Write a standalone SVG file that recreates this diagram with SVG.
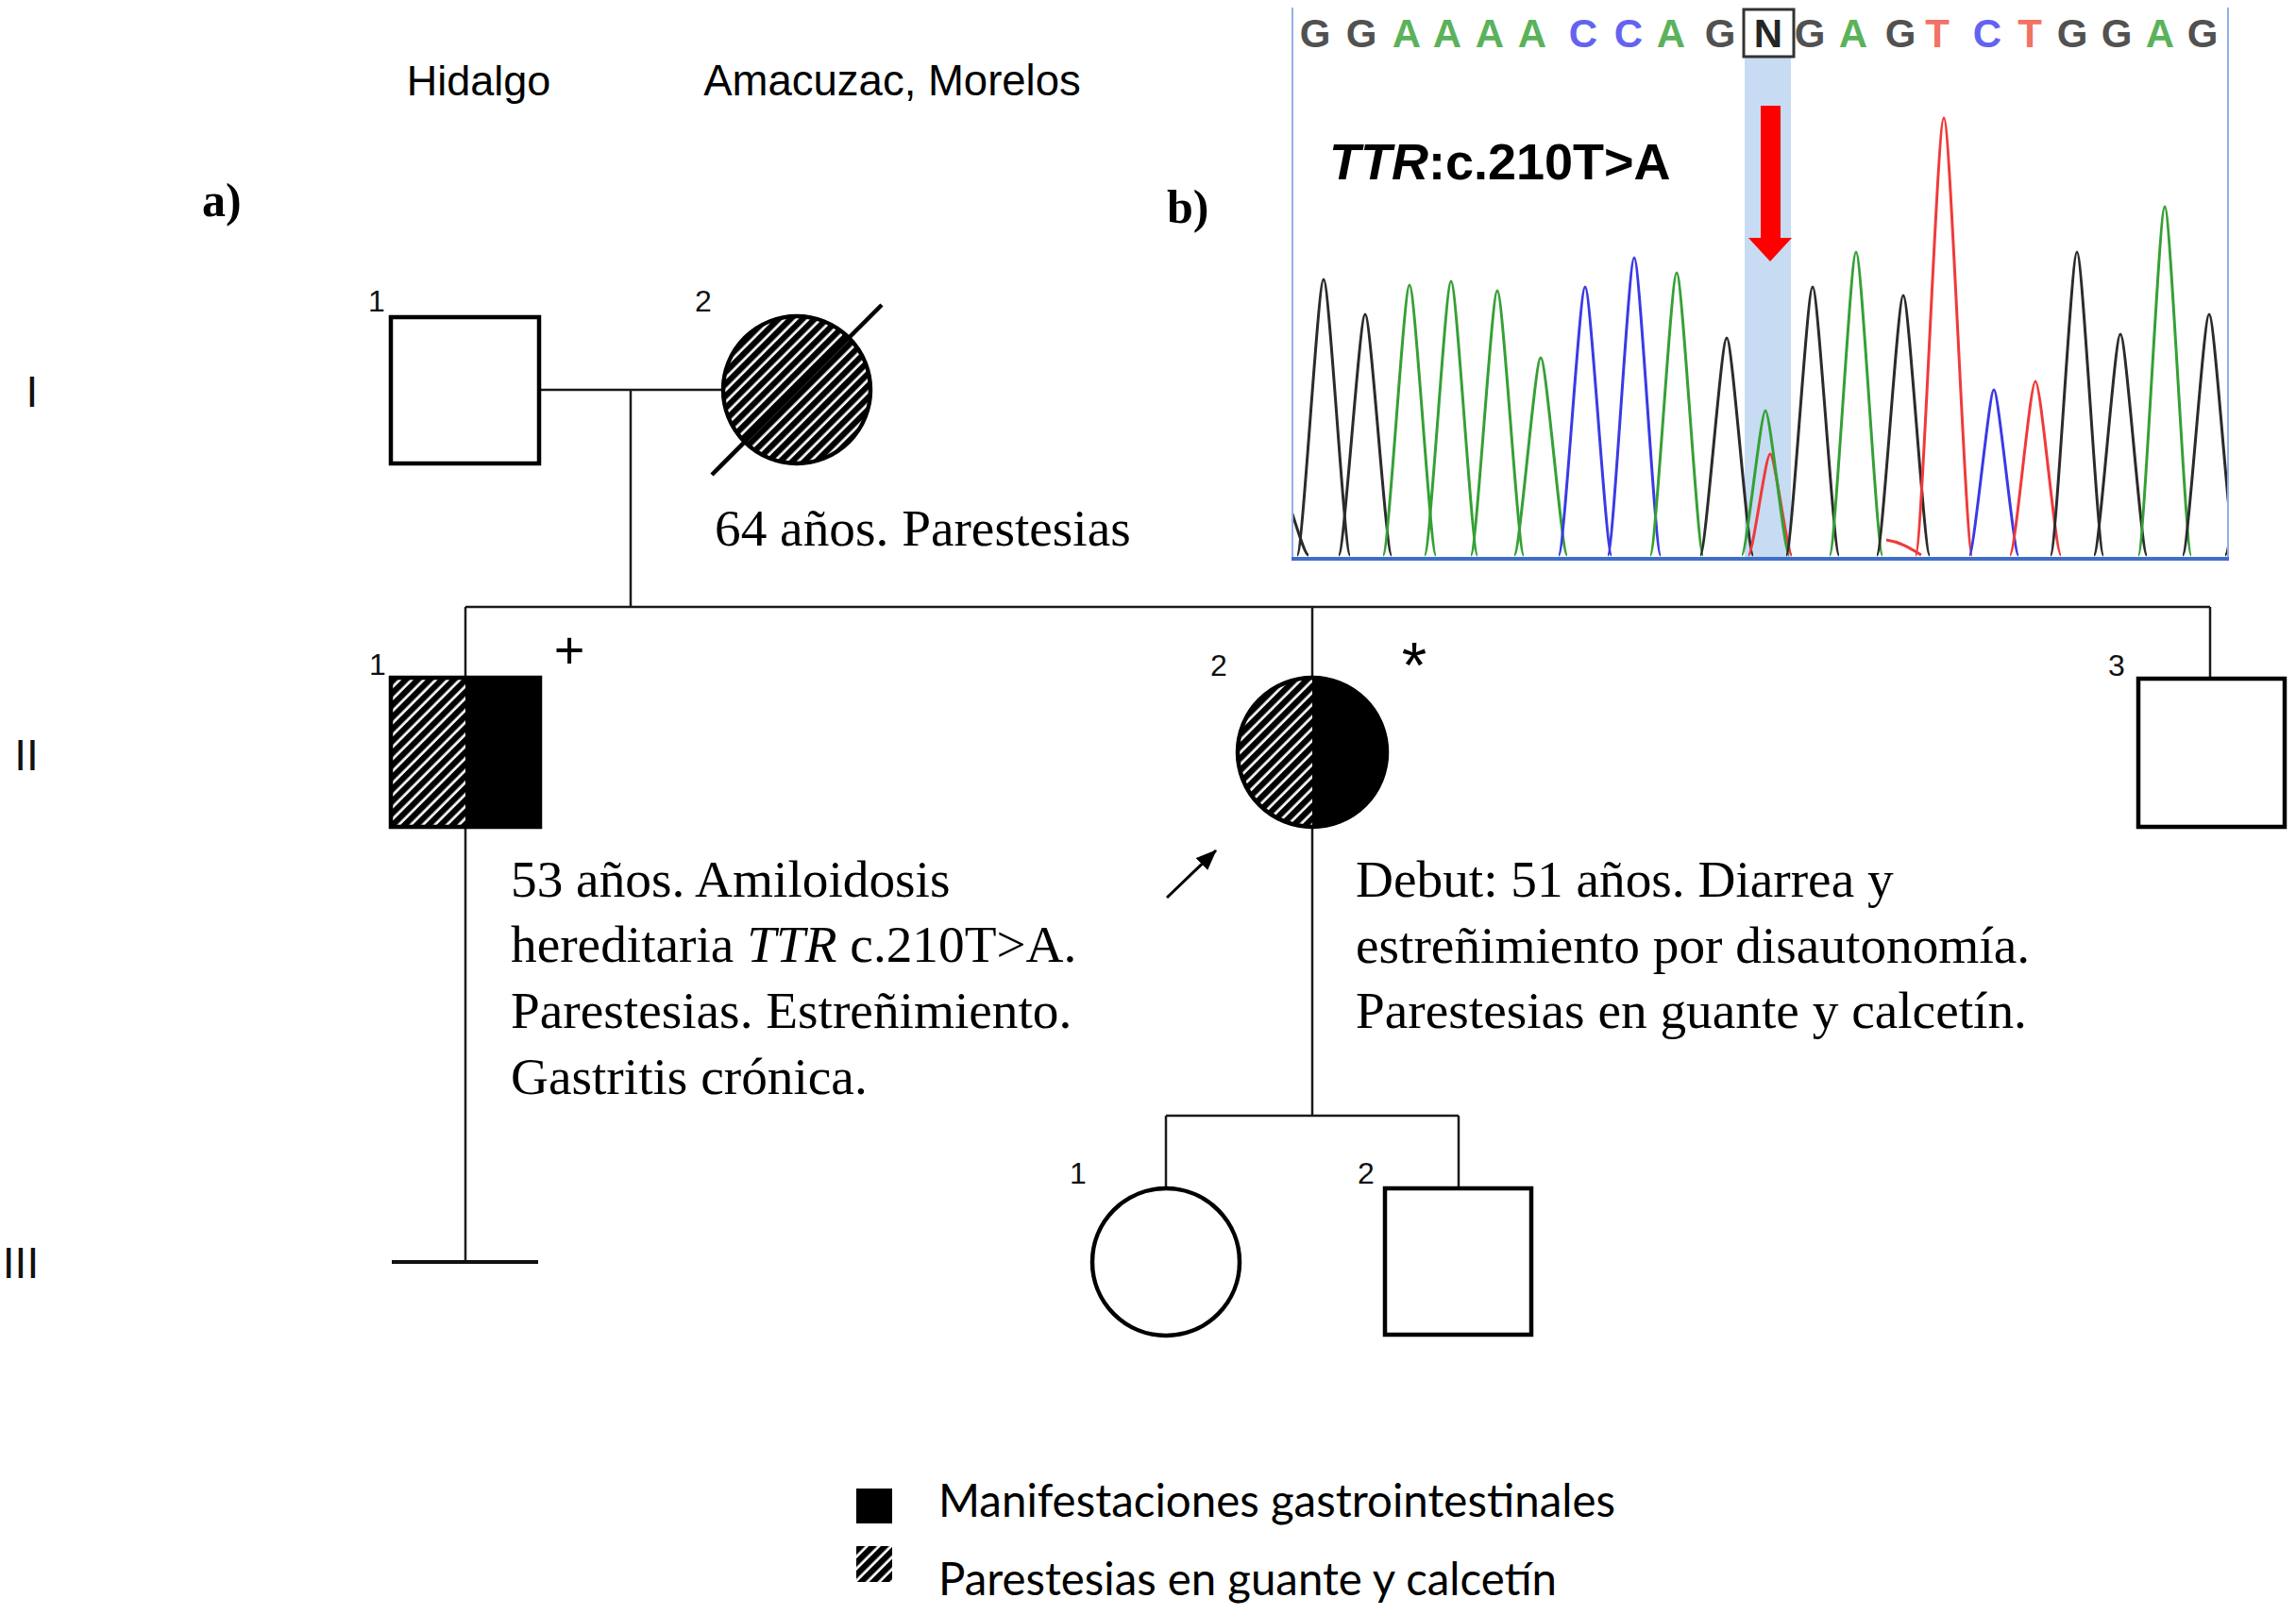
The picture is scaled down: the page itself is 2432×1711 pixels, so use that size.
<svg xmlns="http://www.w3.org/2000/svg" width="2432" height="1711" viewBox="0 0 2432 1711">
<style>
.sans{font-family:"Liberation Sans",Arial,sans-serif}
.serif{font-family:"Liberation Serif","Times New Roman",serif}
.num{font-family:"Liberation Sans",Arial,sans-serif;font-size:32px;text-anchor:middle;fill:#111}
.gen{font-family:"Liberation Sans",Arial,sans-serif;font-size:46px;text-anchor:middle;fill:#111}
.note{font-family:"Liberation Serif","Times New Roman",serif;font-size:55.3px;fill:#000}
.leg{font-family:Lato,"Open Sans",sans-serif;font-size:48px;fill:#000}
.ln{stroke:#1a1a1a;stroke-width:2.5;fill:none}
.shape{stroke:#000;stroke-width:4.5}
.base{font-family:"Liberation Sans",Arial,sans-serif;font-weight:bold;font-size:42px;text-anchor:middle;opacity:0.85}
.tr{fill:none;stroke-width:3;stroke-linejoin:round}
.k{stroke:#2b2b2b}.g{stroke:#35a035}.b{stroke:#3a3ae6}.r{stroke:#f03a3a}
</style>
<defs>
<pattern id="hatch" patternUnits="userSpaceOnUse" width="9" height="9" patternTransform="rotate(45)">
<rect width="9" height="9" fill="#fff"/>
<rect width="6.3" height="9" fill="#000"/>
</pattern>
<marker id="ahb" markerWidth="22" markerHeight="18" refX="21" refY="9" orient="auto" markerUnits="userSpaceOnUse">
<path d="M0,0 L22,9 L0,18 Z" fill="#000"/>
</marker>
<clipPath id="chromclip"><rect x="1369" y="58" width="990" height="533"/></clipPath>
</defs>
<rect width="2432" height="1711" fill="#fff"/>

<!-- headings -->
<text class="sans" x="507" y="101" font-size="45" text-anchor="middle">Hidalgo</text>
<text class="sans" x="945" y="101" font-size="45.5" text-anchor="middle">Amacuzac, Morelos</text>
<text class="serif" x="214" y="229" font-size="50" font-weight="bold">a)</text>
<text class="serif" x="1236" y="236" font-size="50" font-weight="bold">b)</text>

<!-- generation labels -->
<text class="gen" x="34" y="431">I</text>
<text class="gen" x="28" y="816">II</text>
<text class="gen" x="22" y="1354">III</text>

<!-- connectors -->
<g id="connectors">
<line class="ln" x1="571" y1="413" x2="765" y2="413"/>
<line class="ln" x1="668" y1="413" x2="668" y2="643"/>
<line class="ln" x1="493" y1="643" x2="2341" y2="643"/>
<line class="ln" x1="493" y1="643" x2="493" y2="718"/>
<line class="ln" x1="493" y1="876" x2="493" y2="1337"/>
<line x1="415" y1="1337" x2="570" y2="1337" stroke="#111" stroke-width="4"/>
<line class="ln" x1="1390" y1="643" x2="1390" y2="718"/>
<line class="ln" x1="1390" y1="876" x2="1390" y2="1182"/>
<line class="ln" x1="2341" y1="643" x2="2341" y2="719"/>
<line class="ln" x1="1235" y1="1182" x2="1545" y2="1182"/>
<line class="ln" x1="1235" y1="1182" x2="1235" y2="1259"/>
<line class="ln" x1="1545" y1="1182" x2="1545" y2="1259"/>
<line x1="1236" y1="951" x2="1288" y2="901" stroke="#000" stroke-width="3" marker-end="url(#ahb)"/>
</g>

<!-- nodes -->
<g id="I-1">
<rect class="shape" x="414" y="336" width="157" height="155" fill="#fff"/>
<text class="num" x="399" y="330">1</text>
</g>
<g id="I-2">
<circle class="shape" cx="844" cy="413" r="78" fill="url(#hatch)"/>
<line x1="754" y1="503" x2="934" y2="323" stroke="#000" stroke-width="4.5"/>
<text class="num" x="745" y="330">2</text>
<text class="note" x="757" y="578">64 años. Parestesias</text>
</g>
<g id="II-1">
<rect x="414" y="718" width="79" height="158" fill="url(#hatch)"/>
<rect x="493" y="718" width="79" height="158" fill="#000"/>
<rect class="shape" x="414" y="718" width="158" height="158" fill="none"/>
<text class="num" x="400" y="715">1</text>
<text class="sans" x="603" y="708" font-size="56" text-anchor="middle">+</text>
<text class="note"><tspan x="541" y="950">53 años. Amiloidosis</tspan><tspan x="541" y="1019">hereditaria <tspan font-style="italic">TTR</tspan> c.210T&gt;A.</tspan><tspan x="541" y="1089">Parestesias. Estreñimiento.</tspan><tspan x="541" y="1159">Gastritis crónica.</tspan></text>
</g>
<g id="II-2">
<path d="M1390,718 A79,79 0 0 0 1390,876 Z" fill="url(#hatch)"/>
<path d="M1390,718 A79,79 0 0 1 1390,876 Z" fill="#000"/>
<circle class="shape" cx="1390" cy="797" r="79" fill="none"/>
<text class="num" x="1291" y="716">2</text>
<text class="sans" x="1498" y="728" font-size="68" text-anchor="middle">*</text>
<text class="note"><tspan x="1436" y="950">Debut: 51 años. Diarrea y</tspan><tspan x="1436" y="1020">estreñimiento por disautonomía.</tspan><tspan x="1436" y="1089">Parestesias en guante y calcetín.</tspan></text>
</g>
<g id="II-3">
<rect class="shape" x="2265" y="719" width="155" height="157" fill="#fff"/>
<text class="num" x="2242" y="716">3</text>
</g>
<g id="III-1">
<circle class="shape" cx="1235" cy="1337" r="78" fill="#fff"/>
<text class="num" x="1142" y="1254">1</text>
</g>
<g id="III-2">
<rect class="shape" x="1467" y="1259" width="155" height="155" fill="#fff"/>
<text class="num" x="1447" y="1254">2</text>
</g>

<!-- legend -->
<g id="legend">
<rect x="907" y="1577" width="38" height="37" fill="#000"/>
<rect x="907" y="1638" width="38" height="38" fill="url(#hatch)"/>
<text class="leg" x="994" y="1607" textLength="717" lengthAdjust="spacingAndGlyphs">Manifestaciones gastrointestinales</text>
<text class="leg" x="994" y="1690" textLength="655" lengthAdjust="spacingAndGlyphs">Parestesias en guante y calcetín</text>
</g>

<!-- chromatogram panel -->
<g id="chromatogram">
<rect x="1848" y="60" width="49" height="531" fill="#c7dbf2"/>
<g class="base">
<text x="1393" y="50" fill="#333">G</text>
<text x="1442" y="50" fill="#333">G</text>
<text x="1490" y="50" fill="#3fa53f">A</text>
<text x="1533" y="50" fill="#3fa53f">A</text>
<text x="1578" y="50" fill="#3fa53f">A</text>
<text x="1623" y="50" fill="#3fa53f">A</text>
<text x="1677" y="50" fill="#4848ee">C</text>
<text x="1725" y="50" fill="#4848ee">C</text>
<text x="1770" y="50" fill="#3fa53f">A</text>
<text x="1822" y="50" fill="#333">G</text>
<text x="1873" y="50" fill="#000">N</text>
<text x="1917" y="50" fill="#333">G</text>
<text x="1963" y="50" fill="#3fa53f">A</text>
<text x="2013" y="50" fill="#333">G</text>
<text x="2052" y="50" fill="#f05a4a">T</text>
<text x="2105" y="50" fill="#4848ee">C</text>
<text x="2150" y="50" fill="#f05a4a">T</text>
<text x="2195" y="50" fill="#333">G</text>
<text x="2242" y="50" fill="#333">G</text>
<text x="2288" y="50" fill="#3fa53f">A</text>
<text x="2333" y="50" fill="#333">G</text>
</g>
<rect x="1847" y="10" width="53" height="50" fill="none" stroke="#333" stroke-width="3"/>
<g clip-path="url(#chromclip)">
<path class="tr k" d="M1330,588 C1336,588 1352,520 1358,520 C1364,520 1380,588 1386,588"/>
<path class="tr k" d="M1374,588 C1380,588 1396,296 1402,296 C1408,296 1424,588 1430,588"/>
<path class="tr k" d="M1418,588 C1424,588 1440,333 1446,333 C1452,333 1468,588 1474,588"/>
<path class="tr g" d="M1465,588 C1471,588 1487,302 1493,302 C1499,302 1515,588 1521,588"/>
<path class="tr g" d="M1509,588 C1515,588 1531,298 1537,298 C1543,298 1559,588 1565,588"/>
<path class="tr g" d="M1558,588 C1564,588 1580,308 1586,308 C1592,308 1608,588 1614,588"/>
<path class="tr g" d="M1604,588 C1610,588 1626,379 1632,379 C1638,379 1654,588 1660,588"/>
<path class="tr b" d="M1651,588 C1657,588 1673,304 1679,304 C1685,304 1701,588 1707,588"/>
<path class="tr b" d="M1703,588 C1709,588 1725,273 1731,273 C1737,273 1753,588 1759,588"/>
<path class="tr g" d="M1748,588 C1754,588 1770,289 1776,289 C1782,289 1798,588 1804,588"/>
<path class="tr k" d="M1801,588 C1807,588 1823,358 1829,358 C1835,358 1851,588 1857,588"/>
<path class="tr r" d="M1852,588 C1857,588 1870,481 1875,481 C1880,481 1893,588 1898,588"/>
<path class="tr g" d="M1845,588 C1850,588 1865,435 1870,435 C1875,435 1890,588 1895,588"/>
<path class="tr k" d="M1892,588 C1898,588 1914,304 1920,304 C1926,304 1942,588 1948,588"/>
<path class="tr g" d="M1938,588 C1944,588 1960,267 1966,267 C1972,267 1988,588 1994,588"/>
<path class="tr k" d="M1988,588 C1994,588 2010,313 2016,313 C2022,313 2038,588 2044,588"/>
<path class="tr r" d="M1998,572 C2013,574 2025,582 2035,588"/>
<path class="tr r" d="M2029,588 C2036,588 2052,125 2059,125 C2066,125 2082,588 2089,588"/>
<path class="tr b" d="M2086,588 C2091,588 2107,413 2112,413 C2117,413 2133,588 2138,588"/>
<path class="tr r" d="M2129,588 C2135,588 2150,404 2156,404 C2162,404 2177,588 2183,588"/>
<path class="tr k" d="M2172,588 C2178,588 2194,267 2200,267 C2206,267 2222,588 2228,588"/>
<path class="tr k" d="M2218,588 C2224,588 2240,354 2246,354 C2252,354 2268,588 2274,588"/>
<path class="tr g" d="M2265,588 C2271,588 2287,219 2293,219 C2299,219 2315,588 2321,588"/>
<path class="tr k" d="M2312,588 C2318,588 2334,333 2340,333 C2346,333 2362,588 2368,588"/>
<path class="tr k" d="M2357,588 C2363,588 2379,430 2385,430 C2391,430 2407,588 2413,588"/>
</g>
<path d="M1865,112 L1886,112 L1886,252 L1898,252 L1875,277 L1852,252 L1865,252 Z" fill="#f00"/>
<text class="sans" x="1408" y="190" font-size="54" font-weight="bold"><tspan font-style="italic">TTR</tspan>:c.210T&gt;A</text>
<line x1="1369" y1="8" x2="1369" y2="592" stroke="#8fb1e3" stroke-width="2"/>
<line x1="2360" y1="8" x2="2360" y2="592" stroke="#8fb1e3" stroke-width="2"/>
<line x1="1368" y1="592" x2="2361" y2="592" stroke="#3f6fc9" stroke-width="4"/>
</g>
</svg>
